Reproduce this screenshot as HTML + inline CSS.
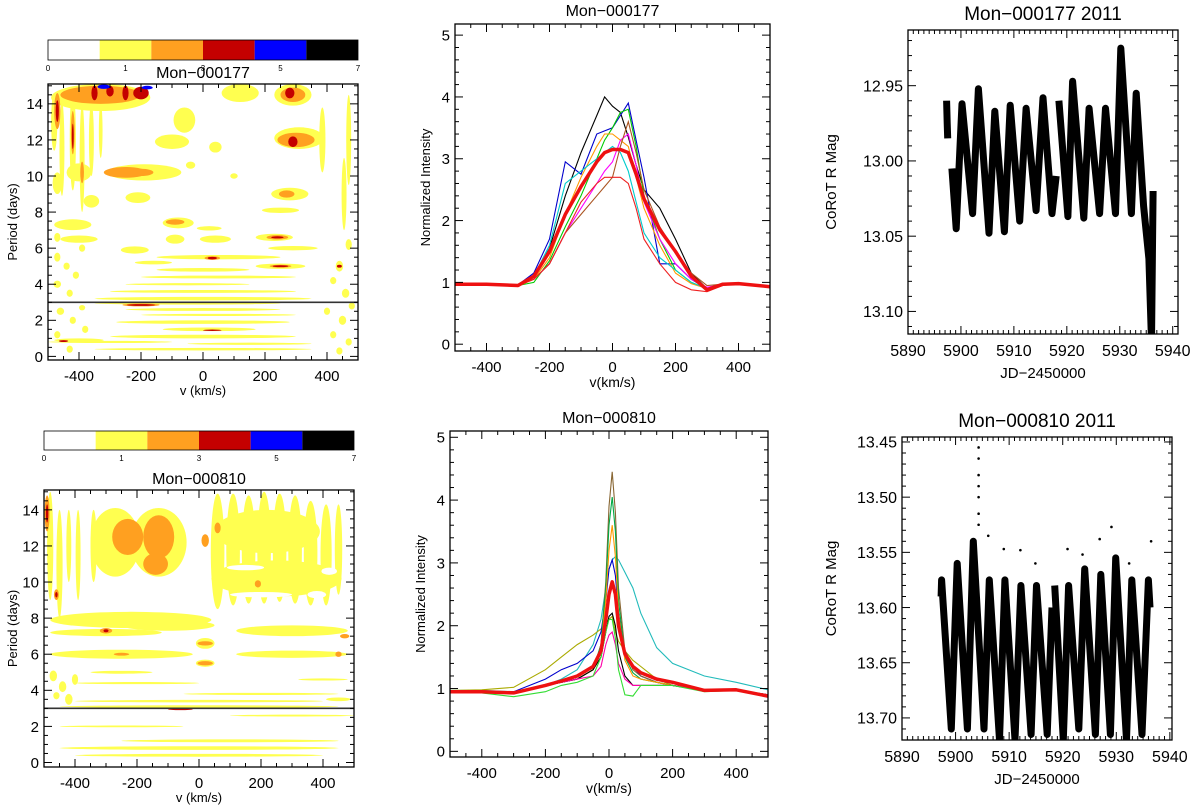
<!DOCTYPE html>
<html><head><meta charset="utf-8"><style>
html,body{margin:0;padding:0;background:#fff;}
svg{display:block;font-family:"Liberation Sans",sans-serif;}
</style></head><body>
<svg id="fig" width="1200" height="805" viewBox="0 0 1200 805" xmlns="http://www.w3.org/2000/svg"></svg>
<script>
// ---------- DATA ----------
const cbLabels = ["0","1","3","5","7"];
const cbColors = ["#ffffff","#ffff50","#ffa020","#c40000","#0000ff","#000000"];
const levelColors = ["#ffffff","#ffff50","#ffa020","#c40000","#0000ff"];
const periodTicks = [0,2,4,6,8,10,12,14];
const velTicks = [-400,-200,0,200,400];
const intTicks = [0,1,2,3,4,5];
const jdTicks = [5890,5900,5910,5920,5930,5940];
const mag177Ticks = [12.95,13.00,13.05,13.10];
const mag810Ticks = [13.45,13.50,13.55,13.60,13.65,13.70];
// periodogram blobs: [v, period, rv, rp, level]
const blobs177 = [
[-330,14.35,160,0.75,1],[-480,13,10,1.6,1],[-455,11.5,8,2.6,1],[-420,12,10,2.8,1],[-390,11,8,3,1],[-360,12,8,2],[-330,12.5,6,1.5,1],[-470,9.6,15,0.6,1],
[-60,13.1,35,0.7,1],[-100,11.9,55,0.4,1],[120,14.6,60,0.5,1],[290,14.5,60,0.6,1],[310,12.1,80,0.6,1],[385,12,10,1.8,1],[470,12,8,2.5,1],[455,9,8,2,1],
[40,11.6,20,0.3,1],[-40,10.6,15,0.2,1],[100,10,12,0.15,1],[-190,10.2,120,0.45,1],[-400,10.2,40,0.5,1],
[-210,8.8,40,0.3,1],[-360,8.6,25,0.35,1],[280,9.0,60,0.35,1],[250,8.1,60,0.15,1],
[-80,7.4,50,0.3,1],[20,7.1,40,0.12,1],[-420,7.3,60,0.3,1],[-90,6.5,30,0.25,1],[40,6.5,50,0.2,1],[230,6.6,60,0.2,1],[-400,6.5,60,0.2,1],
[-220,5.9,45,0.2,1],[290,6.0,80,0.12,1],[50,5.5,200,0.12,1],[-160,5.2,60,0.1,1],[250,5.0,80,0.15,1],[0,4.8,150,0.1,1],
[50,4.4,250,0.08,1],[-50,4.0,200,0.06,1],[0,3.6,300,0.08,1],[0,3.2,350,0.1,1],
[-50,2.95,300,0.08,1],[0,2.6,250,0.08,1],[50,2.3,250,0.06,1],[0,1.9,280,0.1,1],[20,1.5,150,0.1,1],[0,1.1,300,0.1,1],
[-300,0.8,200,0.06,1],[150,0.7,200,0.06,1],[0,0.4,350,0.07,1],[-400,0.9,80,0.1,1],
[-470,5.5,10,0.25,1],[-440,5.0,10,0.2,1],[-410,4.5,10,0.2,1],[-470,4.0,12,0.2,1],[-430,3.5,10,0.2,1],[-390,6.0,10,0.2,1],[-470,6.6,10,0.25,1],
[-460,2.5,12,0.2,1],[-420,2.0,10,0.2,1],[-380,1.5,10,0.2,1],[-470,1.2,10,0.2,1],[-430,0.4,10,0.2,1],[-390,2.7,10,0.15,1],
[440,5.0,12,0.3,1],[470,6.2,10,0.3,1],[420,4.2,10,0.2,1],[460,3.5,12,0.25,1],[400,2.5,10,0.2,1],[450,2.0,12,0.25,1],[420,1.2,10,0.2,1],[470,0.8,10,0.2,1],[440,0.3,10,0.2,1],[480,2.8,10,0.2,1],
[-330,14.5,130,0.5,2],[-470,13.6,10,1.0,2],[-420,12.4,6,1.2,2],[-390,10.2,6,0.6,2],[-250,10.2,70,0.3,2],[-200,10.2,40,0.2,2],[290,14.5,40,0.4,2],
[300,12.0,60,0.4,2],[270,9.0,25,0.2,2],[-90,7.45,30,0.15,2],[240,6.6,35,0.12,2],[30,5.45,25,0.1,2],[250,5.0,35,0.08,2],[-200,2.85,60,0.08,2],
[-350,14.6,10,0.4,3],[-300,14.7,12,0.3,3],[-250,14.6,10,0.4,3],[-200,14.6,25,0.35,3],[-470,13.6,5,0.6,3],[-420,12.2,3,0.7,3],[280,14.6,15,0.3,3],[290,11.9,15,0.3,3],[240,6.6,20,0.06,3],
[30,5.45,15,0.07,3],[250,5.0,25,0.05,3],[-200,2.85,45,0.05,3],[30,1.45,30,0.04,3],[-450,0.85,15,0.05,3],[440,5.0,8,0.08,3],
[-320,14.95,20,0.12,4],[-180,14.9,18,0.1,4]
];
const blobs810 = [
[-270,12.2,80,1.9,1],[-130,12.2,90,1.9,1],[-480,12,10,3,1],[-450,11,10,3,1],[-420,12,8,2,1],[-390,11.5,8,2.5,1],[-340,12,10,2,1],
[60,11.7,22,3.2,1],[110,11.8,22,3.1,1],[160,11.8,22,3.0,1],[210,11.9,22,3.1,1],[260,11.9,22,3.0,1],[310,11.8,22,3.0,1],[360,11.6,22,2.9,1],[410,11.5,18,2.8,1],[450,11.8,12,2.5,1],
[250,10.2,210,1.0,1],[220,12.8,170,1.2,1],
[-220,7.9,260,0.45,1],[-100,7.6,150,0.3,1],[300,7.3,180,0.3,1],[-300,7.2,180,0.2,1],
[-250,6.0,230,0.25,1],[300,6.0,180,0.2,1],[20,6.6,30,0.3,1],[20,5.5,30,0.2,1],
[-470,4.8,12,0.3,1],[-440,4.2,12,0.3,1],[-420,3.5,12,0.3,1],[-400,4.6,10,0.3,1],[-460,3.7,10,0.2,1],
[-250,5,100,0.08,1],[-200,4.4,200,0.06,1],[200,3.8,250,0.06,1],[0,3.4,400,0.07,1],[0,3.1,450,0.07,1],[-250,2,200,0.05,1],
[100,1.2,350,0.08,1],[0,0.8,450,0.1,1],[0,0.4,400,0.08,1],[300,2.6,200,0.05,1],[400,4.6,80,0.06,1],[450,3.5,40,0.1,1],
[150,10.8,60,0.15,0],[200,9.3,100,0.15,0],[420,10.6,25,0.2,0],[380,9.3,30,0.2,0],
[-230,12.5,50,1.0,2],[-130,12.5,50,1.2,2],[-140,11,40,0.6,2],[20,12.3,12,0.35,2],[60,13.0,10,0.3,2],[20,6.6,25,0.12,2],[20,5.5,25,0.12,2],
[190,9.9,10,0.2,2],[-300,7.3,20,0.15,2],[-460,9.3,8,0.3,2],[-490,13.8,8,1,2],[-250,6.0,25,0.08,2],[450,6.0,10,0.15,2],[470,7.0,15,0.12,2],
[-490,13.8,4,0.5,3],[-460,9.3,4,0.15,3],[-300,7.3,8,0.08,3],[-60,2.95,40,0.05,3]
];
// line profiles
const v177 = [-500,-400,-300,-250,-200,-150,-100,-50,-25,0,25,50,75,100,150,200,250,300,350,400,500];
const p177Colors = ["#000000","#0000cc","#00cc00","#ff9900","#00cccc","#ff00ff","#aa5522","#ee2222"];
const p177 = [
[0.97,0.97,0.96,1.1,1.55,2.4,3.1,3.7,4.0,3.85,3.75,3.35,2.9,2.5,2.2,1.7,1.15,0.9,0.97,0.98,0.93],
[0.97,0.97,0.96,1.15,1.7,2.95,2.75,3.4,3.45,3.5,3.7,3.9,3.3,2.7,1.3,1.3,1.05,0.9,0.97,0.98,0.93],
[0.96,0.96,0.95,1.0,1.35,1.9,2.4,3.0,3.3,3.5,3.75,3.8,3.2,2.4,1.7,1.2,1.0,0.9,0.97,0.98,0.93],
[0.95,0.97,0.94,1.05,1.4,2.1,2.7,3.2,3.4,3.4,3.3,3.2,2.7,2.2,1.6,1.15,0.98,0.9,0.97,0.98,0.93],
[0.97,0.97,0.96,1.1,1.6,2.6,2.8,3.0,3.1,3.2,3.1,2.8,2.3,1.8,1.4,1.2,1.0,0.9,0.97,0.98,0.93],
[0.97,0.97,0.95,1.05,1.3,1.8,2.2,2.6,2.8,2.95,3.3,3.4,2.9,2.3,1.7,1.3,1.05,0.92,0.97,0.98,0.93],
[0.97,0.97,0.95,1.05,1.3,1.8,2.1,2.4,2.55,2.7,3.2,3.6,3.1,2.5,1.9,1.5,1.15,0.95,0.97,0.98,0.93],
[0.97,0.97,0.95,1.05,1.3,1.8,2.3,2.6,2.7,2.7,2.7,2.6,2.2,1.7,1.3,1.0,0.88,0.85,0.95,0.98,0.93]
];
const mean177 = [0.97,0.97,0.95,1.1,1.5,2.1,2.55,2.95,3.1,3.15,3.15,3.1,2.75,2.35,1.85,1.5,1.1,0.88,0.97,0.98,0.93];
const v810 = [-500,-400,-300,-200,-150,-100,-50,-25,-10,0,10,20,30,50,75,100,150,200,300,400,500];
const p810Colors = ["#22bbbb","#aaaa00","#0000cc","#886633","#00aa44","#ff9900","#000000","#ff00aa","#33dd33"];
const p810 = [
[0.97,0.97,0.95,1.05,1.15,1.3,1.7,2.1,2.6,2.9,3.05,3.1,3.05,2.85,2.6,2.2,1.65,1.4,1.2,1.1,0.98],
[0.97,0.98,1.02,1.3,1.5,1.7,1.85,1.95,2.05,2.1,2.15,1.9,1.75,1.6,1.45,1.35,1.15,1.05,0.97,0.98,0.9],
[0.95,0.95,0.95,1.15,1.3,1.4,1.6,1.9,2.4,2.9,3.05,2.8,2.2,1.6,1.35,1.2,1.1,1.05,0.97,0.98,0.9],
[0.95,0.95,0.93,1.05,1.1,1.15,1.3,1.7,2.7,3.9,4.45,3.8,2.6,1.6,1.3,1.2,1.1,1.05,0.97,0.98,0.9],
[0.95,0.95,0.93,1.05,1.1,1.15,1.3,1.7,2.6,3.6,4.05,3.5,2.4,1.5,1.25,1.15,1.1,1.05,0.97,0.98,0.9],
[0.95,0.95,0.93,1.05,1.1,1.15,1.3,1.65,2.4,3.2,3.6,3.1,2.2,1.45,1.2,1.15,1.1,1.05,0.97,0.98,0.9],
[0.93,0.95,0.93,1.05,1.1,1.15,1.3,1.5,1.9,2.15,2.2,2.0,1.6,1.2,1.05,1.05,1.05,1.05,0.97,0.98,0.9],
[0.95,0.95,0.93,1.05,1.1,1.15,1.2,1.35,1.7,1.85,1.9,1.7,1.4,1.15,1.05,1.05,1.05,1.05,0.97,0.98,0.9],
[0.95,0.93,0.87,0.95,1.05,1.1,1.2,1.5,1.9,2.1,2.1,1.8,1.3,0.9,0.88,1.05,1.05,1.05,0.95,0.97,0.88]
];
const mean810 = [0.95,0.95,0.93,1.05,1.12,1.2,1.35,1.6,2.1,2.5,2.7,2.5,2.0,1.55,1.35,1.25,1.15,1.1,0.97,0.98,0.88];
// light curves (extrema)
const jd177 = [5897.3,5897.4,5897.5,null,5898.3,5899.1,5900.2,5902.2,5903.3,5905.3,5906.4,5908.2,5909.3,5911.1,5912.3,5914.2,5915.5,5917.2,5918.0,null,5918.5,5920.2,5921.1,5923.2,5924.2,5926.2,5927.3,5929.2,5930.2,5932.2,5933.1,5934.5,5935.5,5936.0,5936.2,5936.3];
const mag177 = [12.96,12.975,12.985,null,13.005,13.045,12.962,13.035,12.952,13.048,12.967,13.047,12.963,13.040,12.965,13.033,12.958,13.035,13.01,null,12.96,13.037,12.947,13.038,12.965,13.035,12.965,13.035,12.925,13.035,12.955,13.03,13.065,13.12,13.05,13.02];
const jd810 = [5897.3,5897.4,5899.2,5900.3,5902.2,5903.3,5905.3,5906.3,5908.2,5909.2,5911.1,5912.2,5914.1,5915.1,5917.1,5918.0,null,5918.5,5920.1,5921.1,5923.0,5924.1,5926.1,5927.1,5928.9,5929.9,5931.9,5932.9,5934.8,5936.0,5936.3];
const mag810 = [13.59,13.575,13.71,13.56,13.71,13.54,13.71,13.575,13.72,13.575,13.72,13.58,13.715,13.58,13.715,13.60,null,13.58,13.72,13.58,13.71,13.565,13.715,13.57,13.715,13.555,13.72,13.575,13.715,13.575,13.60];
const flareJD = [5904.3,5904.3,5904.3,5904.3,5904.3,5904.3,5904.3,5906.1,5909.0,5912.1,5914.9,5920.9,5923.7,5926.9,5929.1,5932.4,5936.5];
const flareMag = [13.455,13.465,13.48,13.49,13.50,13.515,13.525,13.535,13.547,13.548,13.56,13.547,13.552,13.538,13.527,13.56,13.54];

// ---------- DRAWING ----------
const NS = "http://www.w3.org/2000/svg";
const svg = document.getElementById('fig');
function mk(tag, attrs, parent, name) {
  const e = document.createElementNS(NS, tag);
  for (const k in attrs) e.setAttribute(k, attrs[k]);
  
  
  parent.appendChild(e);
  return e;
}
function txt(s, x, y, size, anchor, parent, name, rot) {
  const t = mk('text', {x:x, y:y, 'font-size':size, 'text-anchor':anchor||'middle', fill:'#000'}, parent, name);
  if (rot) t.setAttribute('transform', 'rotate(-90 ' + x + ' ' + y + ')');
  t.textContent = s;
  return t;
}
function scale(d0, d1, r0, r1) { return v => r0 + (v - d0) * (r1 - r0) / (d1 - d0); }

function frame(P, xt, yt, xMinStep, yMinStep, xfmt, yfmt, fs, name) {
  const g = mk('g', {}, svg, name + '-axes');
  mk('rect', {x:P.x0, y:P.y0, width:P.x1-P.x0, height:P.y1-P.y0, fill:'none', stroke:'#000', 'stroke-width':1.3}, g, name + '-frame');
  const xs = P.sx, ys = P.sy;
  const xlo = Math.min(P.xd[0],P.xd[1]), xhi = Math.max(P.xd[0],P.xd[1]);
  const ylo = Math.min(P.yd[0],P.yd[1]), yhi = Math.max(P.yd[0],P.yd[1]);
  for (let v = Math.ceil(xlo / xMinStep - 1e-6) * xMinStep; v <= xhi + 1e-9; v += xMinStep) {
    const X = xs(v);
    const major = xt.some(t => Math.abs(t - v) < 1e-6);
    const L = major ? 8 : 4;
    mk('line', {x1:X, x2:X, y1:P.y1, y2:P.y1-L, stroke:'#000', 'stroke-width':1}, g, name + '-x-tick');
    mk('line', {x1:X, x2:X, y1:P.y0, y2:P.y0+L, stroke:'#000', 'stroke-width':1}, g, name + '-x-tick-top');
  }
  for (let v = Math.ceil(ylo / yMinStep - 1e-6) * yMinStep; v <= yhi + 1e-9; v += yMinStep) {
    const Y = ys(v);
    const major = yt.some(t => Math.abs(t - v) < 1e-6);
    const L = major ? 8 : 4;
    mk('line', {x1:P.x0, x2:P.x0+L, y1:Y, y2:Y, stroke:'#000', 'stroke-width':1}, g, name + '-y-tick');
    mk('line', {x1:P.x1, x2:P.x1-L, y1:Y, y2:Y, stroke:'#000', 'stroke-width':1}, g, name + '-y-tick-right');
  }
  xt.forEach(v => txt(xfmt(v), xs(v), P.y1 + fs + 6, fs, 'middle', g, name + '-x-tick-label'));
  yt.forEach(v => txt(yfmt(v), P.x0 - 5, ys(v) + fs*0.36, fs, 'end', g, name + '-y-tick-label'));
}
function mkPanel(x0,y0,x1,y1,xd,yd){ return {x0,y0,x1,y1,xd,yd,sx:scale(xd[0],xd[1],x0,x1),sy:scale(yd[0],yd[1],y1,y0)}; }
let clipN = 0;
function clip(P, name) {
  const id = 'c' + (clipN++);
  const cp = mk('clipPath', {id:id}, svg, name + '-clip');
  mk('rect', {x:P.x0, y:P.y0, width:P.x1-P.x0, height:P.y1-P.y0}, cp, name + '-clip-rect');
  return mk('g', {'clip-path':'url(#' + id + ')'}, svg, name + '-plot-area');
}

// --- periodogram maps ---
function colorbar(x0, y0, w, h, name) {
  const g = mk('g', {}, svg, name);
  cbColors.forEach((c, i) => {
    mk('rect', {x:x0 + i*w/6, y:y0, width:w/6, height:h, fill:c}, g, 'colorbar-segment');
  });
  mk('rect', {x:x0, y:y0, width:w, height:h, fill:'none', stroke:'#000', 'stroke-width':0.8}, g, 'colorbar-border');
  cbLabels.forEach((s, i) => txt(s, x0 + i*w/4, y0 + h + 11, 8, 'middle', g, 'colorbar-label'));
}
function pmap(P, blobs, title, name) {
  const g = clip(P, name);
  const order = [1,0,2,3,4];
  order.forEach(L => {
    blobs.filter(b => (b[4] === undefined ? 1 : b[4]) === L).forEach(b => {
      const rx = Math.abs(P.sx(b[0]+b[2]) - P.sx(b[0]));
      const ry = Math.abs(P.sy(b[1]+b[3]) - P.sy(b[1]));
      mk('ellipse', {cx:P.sx(b[0]), cy:P.sy(b[1]), rx:rx, ry:ry, fill:levelColors[L]}, g, 'power-contour');
    });
  });
  mk('line', {x1:P.x0, x2:P.x1, y1:P.sy(3), y2:P.sy(3), stroke:'#333', 'stroke-width':1.6}, g, 'period-3-day-line');
  frame(P, velTicks, periodTicks, 50, 0.5, v => String(v), v => String(v), 15, name);
  txt(title, (P.x0+P.x1)/2, P.y0 - 6, 16, 'middle', svg, name + '-title');
  txt('v (km/s)', (P.x0+P.x1)/2, P.y1 + 35, 13, 'middle', svg, name + '-x-axis-title');
  txt('Period (days)', 17, (P.y0+P.y1)/2, 13, 'middle', svg, name + '-y-axis-title', true);
}
colorbar(48, 40, 310, 20, 'colorbar-top');
pmap(mkPanel(48,84,358,360,[-500,500],[-0.2,15.1]), blobs177, 'Mon−000177', 'periodogram-177');
colorbar(44, 431, 310, 19, 'colorbar-bottom');
pmap(mkPanel(44,490,354,767,[-500,500],[-0.25,15.1]), blobs810, 'Mon−000810', 'periodogram-810');

// --- line profiles ---
function profiles(P, vv, series, colors, mean, title, name) {
  const g = clip(P, name);
  series.forEach((s, i) => {
    const d = s.map((y, j) => (j ? 'L' : 'M') + P.sx(vv[j]).toFixed(1) + ',' + P.sy(y).toFixed(1)).join('');
    mk('path', {d:d, fill:'none', stroke:colors[i], 'stroke-width':1.1}, g, 'profile-line');
  });
  const d = mean.map((y, j) => (j ? 'L' : 'M') + P.sx(vv[j]).toFixed(1) + ',' + P.sy(y).toFixed(1)).join('');
  mk('path', {d:d, fill:'none', stroke:'#ee1111', 'stroke-width':3.5, 'stroke-linejoin':'round'}, g, 'mean-profile-line');
  frame(P, velTicks, intTicks, 50, 0.2, v => String(v), v => String(v), 15, name);
  txt(title, (P.x0+P.x1)/2, P.y0 - 8, 16, 'middle', svg, name + '-title');
  txt('v(km/s)', (P.x0+P.x1)/2, P.y1 + 36, 14, 'middle', svg, name + '-x-axis-title');
  txt('Normalized Intensity', P.x0 - 25, (P.y0+P.y1)/2, 13, 'middle', svg, name + '-y-axis-title', true);
}
profiles(mkPanel(455,24,770,351,[-500,500],[-0.11,5.18]), v177, p177, p177Colors, mean177, 'Mon−000177', 'profiles-177');
profiles(mkPanel(450,431,768,757,[-500,500],[-0.09,5.1]), v810, p810, p810Colors, mean810, 'Mon−000810', 'profiles-810');

// --- light curves ---
function lightcurve(P, jd, mag, ticks, title, name, fjd, fmag) {
  const g = clip(P, name);
  let d = '', pen = false;
  jd.forEach((t, i) => {
    if (t === null) { pen = false; return; }
    d += (pen ? 'L' : 'M') + P.sx(t).toFixed(1) + ',' + P.sy(mag[i]).toFixed(1);
    pen = true;
  });
  mk('path', {d:d, fill:'none', stroke:'#000', 'stroke-width':7, 'stroke-linejoin':'round'}, g, 'light-curve');
  if (fjd) fjd.forEach((t, i) => mk('circle', {cx:P.sx(t), cy:P.sy(fmag[i]), r:1.3, fill:'#000'}, g, 'flare-point'));
  frame(P, jdTicks, ticks, 1, 0.01, v => String(v), v => v.toFixed(2), 16, name);
  txt(title, (P.x0+P.x1)/2, P.y0 - 10, 19, 'middle', svg, name + '-title');
  txt('JD−2450000', (P.x0+P.x1)/2, P.y1 + 44, 15, 'middle', svg, name + '-x-axis-title');
  txt('CoRoT R Mag', 836, (P.y0+P.y1)/2, 15, 'middle', svg, name + '-y-axis-title', true);
}
lightcurve(mkPanel(908,30,1178,334,[5890,5941],[13.115,12.913]), jd177, mag177, mag177Ticks, 'Mon−000177 2011', 'lightcurve-177');
lightcurve(mkPanel(902,437,1172,740,[5890,5940.4],[13.72,13.4455]), jd810, mag810, mag810Ticks, 'Mon−000810 2011', 'lightcurve-810', flareJD, flareMag);
</script>
</body></html>
